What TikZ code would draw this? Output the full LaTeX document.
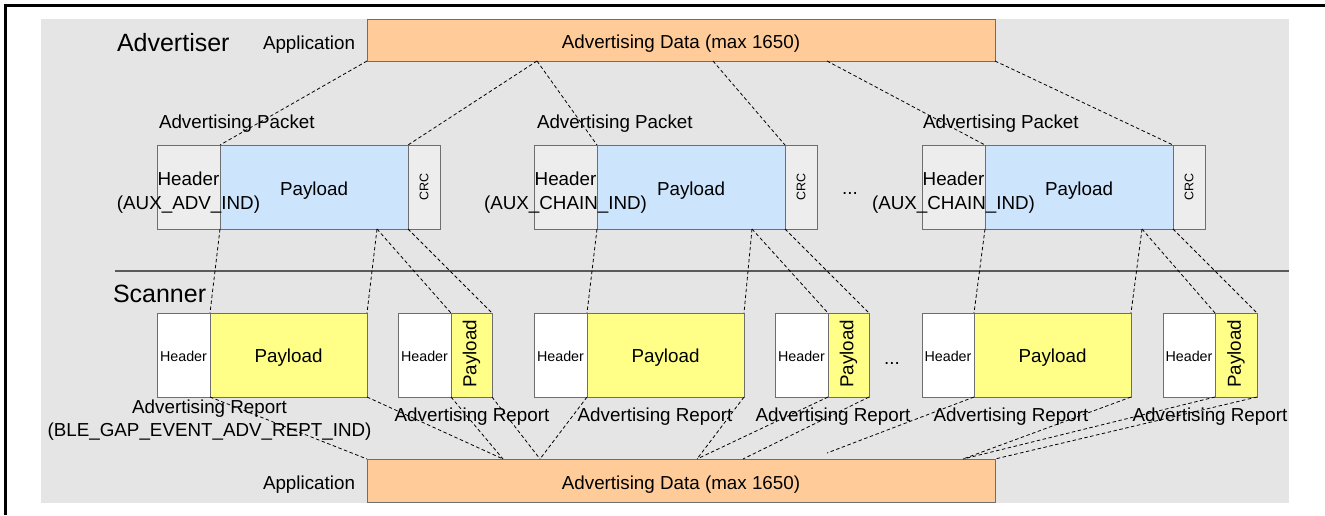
\documentclass[tikz,border=0pt]{standalone}
\usepackage{fontspec}
\setmainfont{Liberation Sans}
\definecolor{bggray}{HTML}{E5E5E5}
\definecolor{appor}{HTML}{FFCC99}
\definecolor{pktblue}{HTML}{CCE4FC}
\definecolor{hdrgray}{HTML}{EDEDED}
\definecolor{repyel}{HTML}{FFFF88}
\definecolor{boxline}{HTML}{6E6E6E}
\definecolor{sepgray}{HTML}{5A5A5A}
\begin{document}
\begin{tikzpicture}[x=1pt,y=-1pt,
  every node/.style={inner sep=0pt, outer sep=0pt},
  box/.style={draw=boxline, line width=1pt, anchor=north west, rectangle, minimum height=84pt},
  cut/.style={draw=black, line width=0.8pt, dash pattern=on 3.5pt off 2.5pt},
  txt/.style={font=\fontsize{18.8pt}{23.5pt}\selectfont},
  boxtxt/.style={txt, text height=16pt, text depth=0pt},
  big/.style={font=\fontsize{25pt}{30pt}\selectfont},
  smalltxt/.style={font=\fontsize{14.3pt}{17pt}\selectfont, text height=12pt, text depth=0pt},
  tinytxt/.style={font=\fontsize{12.5pt}{15pt}\selectfont},
]
\useasboundingbox (0,0) rectangle (1325,515);
\fill[bggray] (41,19) rectangle (1289,503);
\draw[black, line width=3pt] (5.5,515) -- (5.5,5.5) -- (1325,5.5);

% top application data
\node[box, fill=appor, minimum width=628pt, minimum height=42pt, boxtxt, text height=17pt] (topdata) at (367,19) {Advertising Data (max 1650)};
\node[txt, big, anchor=base west] (advlbl) at (117,51) {Advertiser};
\node[txt, anchor=base west] (apptop) at (263,49) {Application};

% packets
\node[box, fill=hdrgray, minimum width=63pt] (p1h) at (157,145) {};
\node[box, fill=pktblue, minimum width=188pt, boxtxt] (p1p) at (220,145) {Payload};
\node[box, fill=hdrgray, minimum width=32pt] (p1c) at (408,145) {};
\node[box, fill=hdrgray, minimum width=63pt] (p2h) at (534,145) {};
\node[box, fill=pktblue, minimum width=188pt, boxtxt] (p2p) at (597,145) {Payload};
\node[box, fill=hdrgray, minimum width=32pt] (p2c) at (785,145) {};
\node[box, fill=hdrgray, minimum width=63pt] (p3h) at (922,145) {};
\node[box, fill=pktblue, minimum width=188pt, boxtxt] (p3p) at (985,145) {Payload};
\node[box, fill=hdrgray, minimum width=32pt] (p3c) at (1173,145) {};

\node[txt, anchor=base west] (pk1l) at (159,128) {Advertising Packet};
\node[txt, anchor=base west] (pk2l) at (537,128) {Advertising Packet};
\node[txt, anchor=base west] (pk3l) at (923,128) {Advertising Packet};
\node[txt, align=center, yshift=-5.5pt] (h1l) at (p1h.center) {Header\\(AUX\_ADV\_IND)};
\node[txt, align=center, yshift=-5.5pt] (h2l) at (p2h.center) {Header\\(AUX\_CHAIN\_IND)};
\node[txt, align=center, yshift=-5.5pt] (h3l) at (p3h.center) {Header\\(AUX\_CHAIN\_IND)};
\node[tinytxt, rotate=90] (c1l) at (p1c.center) {CRC};
\node[tinytxt, rotate=90] (c2l) at (p2c.center) {CRC};
\node[tinytxt, rotate=90] (c3l) at (p3c.center) {CRC};
\node[txt, anchor=base] (dots1) at (850,194) {...};

% separator
\draw[sepgray, line width=1.5pt] (115,271) -- (1289,271);
\node[txt, big, anchor=base west] (scnlbl) at (113,302) {Scanner};

% reports
\node[box, fill=white, minimum width=53pt, smalltxt] (r1h) at (157,313) {Header};
\node[box, fill=repyel, minimum width=157pt, boxtxt, text height=15pt] (r1p) at (210,313) {Payload};
\node[box, fill=white, minimum width=53pt, smalltxt] (s1h) at (398,313) {Header};
\node[box, fill=repyel, minimum width=41pt] (s1p) at (451,313) {};
\node[box, fill=white, minimum width=53pt, smalltxt] (r2h) at (534,313) {Header};
\node[box, fill=repyel, minimum width=157pt, boxtxt, text height=15pt] (r2p) at (587,313) {Payload};
\node[box, fill=white, minimum width=53pt, smalltxt] (s2h) at (775,313) {Header};
\node[box, fill=repyel, minimum width=41pt] (s2p) at (828,313) {};
\node[box, fill=white, minimum width=52pt, smalltxt] (r3h) at (922,313) {Header};
\node[box, fill=repyel, minimum width=157pt, boxtxt, text height=15pt] (r3p) at (974,313) {Payload};
\node[box, fill=white, minimum width=52pt, smalltxt] (s3h) at (1163,313) {Header};
\node[box, fill=repyel, minimum width=42pt] (s3p) at (1215,313) {};
\node[txt, rotate=90, xshift=1pt] (s1pl) at (s1p.center) {Payload};
\node[txt, rotate=90, xshift=1pt] (s2pl) at (s2p.center) {Payload};
\node[txt, rotate=90, xshift=1pt] (s3pl) at (s3p.center) {Payload};
\node[txt, anchor=base] (dots2) at (892,364) {...};

\node[txt, align=center] (rl1) at (209.5,420) {Advertising Report\\(BLE\_GAP\_EVENT\_ADV\_REPT\_IND)};
\node[txt, anchor=base] (rl2) at (472,421) {Advertising Report};
\node[txt, anchor=base] (rl3) at (655,421) {Advertising Report};
\node[txt, anchor=base] (rl4) at (833,421) {Advertising Report};
\node[txt, anchor=base] (rl5) at (1011,421) {Advertising Report};
\node[txt, anchor=base] (rl6) at (1210,421) {Advertising Report};

% bottom application data
\node[box, fill=appor, minimum width=628pt, minimum height=43pt, boxtxt, text height=17pt] (botdata) at (367,459) {Advertising Data (max 1650)};
\node[txt, anchor=base west] (appbot) at (263,489) {Application};

% split points
\coordinate (ta) at (537,61);
\coordinate (tb) at (713,61);
\coordinate (tc) at (827,61);
\coordinate (m1) at (377,229);
\coordinate (m2) at (752,229);
\coordinate (m3) at (1142,229);
\coordinate (b1) at (503,459);
\coordinate (b2) at (540,459);
\coordinate (b3) at (697,459);
\coordinate (b4) at (743,459);
\coordinate (b5) at (827,453);
\coordinate (b6) at (963,459);

% connectors: data -> packets
\draw[cut] (topdata.south west) -- (p1p.north west);
\draw[cut] (ta) -- (p1c.north west);
\draw[cut] (ta) -- (p2p.north west);
\draw[cut] (tb) -- (p2c.north west);
\draw[cut] (tc) -- (p3p.north west);
\draw[cut] (topdata.south east) -- (p3c.north west);

% packets -> reports
\draw[cut] (p1p.south west) -- (r1p.north west);
\draw[cut] (m1) -- (r1p.north east);
\draw[cut] (m1) -- (s1p.north west);
\draw[cut] (p1c.south west) -- (s1p.north east);
\draw[cut] (p2p.south west) -- (r2p.north west);
\draw[cut] (m2) -- (r2p.north east);
\draw[cut] (m2) -- (s2p.north west);
\draw[cut] (p2c.south west) -- (s2p.north east);
\draw[cut] (p3p.south west) -- (r3p.north west);
\draw[cut] (m3) -- (r3p.north east);
\draw[cut] (m3) -- (s3p.north west);
\draw[cut] (p3c.south west) -- (s3p.north east);

% reports -> data
\draw[cut] (r1p.south west) -- (botdata.north west);
\draw[cut] (r1p.south east) -- (b1);
\draw[cut] (s1p.south west) -- (b1);
\draw[cut] (s1p.south east) -- (b2);
\draw[cut] (r2p.south west) -- (b2);
\draw[cut] (r2p.south east) -- (b3);
\draw[cut] (s2p.south west) -- (b3);
\draw[cut] (s2p.south east) -- (b4);
\draw[cut] (r3p.south west) -- (b5);
\draw[cut] (r3p.south east) -- (b6);
\draw[cut] (s3p.south west) -- (b6);
\draw[cut] (s3p.south east) -- (botdata.north east);
\end{tikzpicture}
\end{document}
